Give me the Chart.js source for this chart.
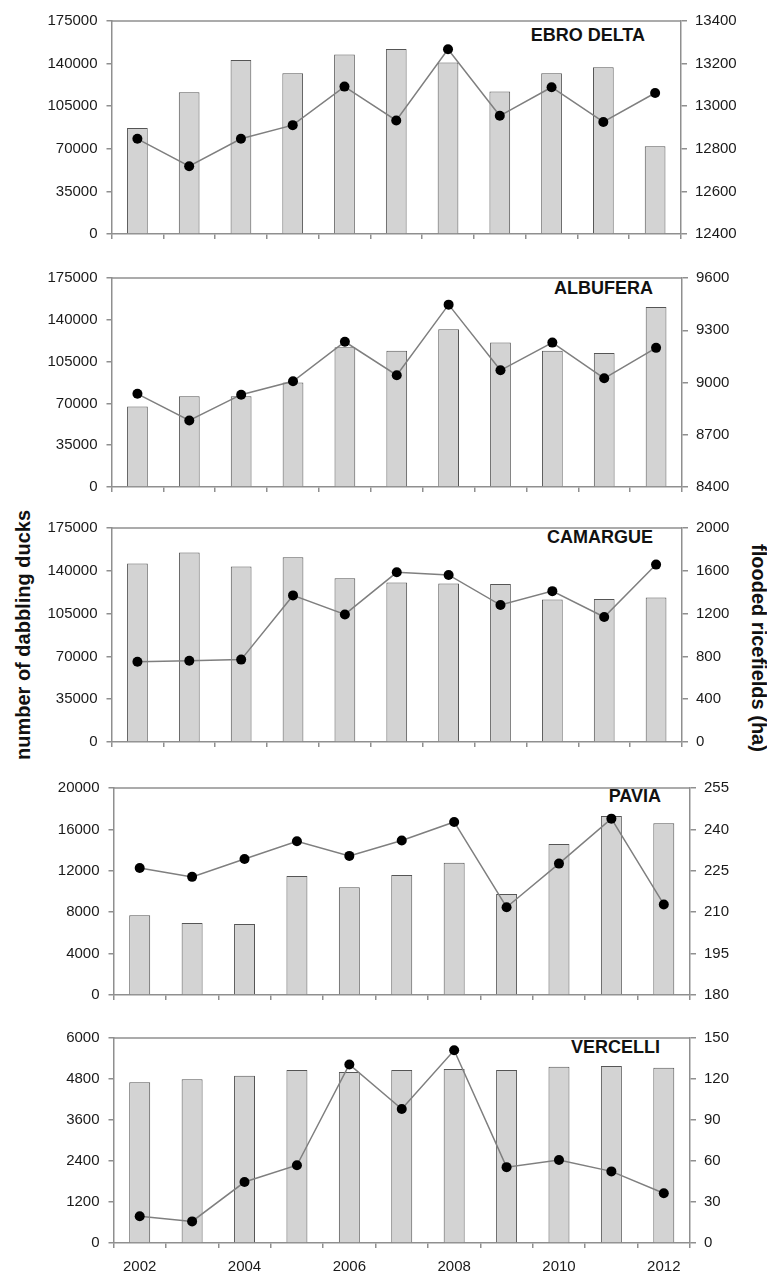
<!DOCTYPE html>
<html><head><meta charset="utf-8">
<script src="https://cdn.jsdelivr.net/npm/chart.js@4.4.1/dist/chart.umd.min.js"></script>
<style>
html,body{margin:0;padding:0;background:#fff;width:767px;height:1277px;overflow:hidden;position:relative;font-family:"Liberation Sans",Arial,sans-serif;}
canvas{position:absolute;left:0;}
.t{position:absolute;font-weight:bold;font-size:18px;color:#111;white-space:nowrap;line-height:18px;text-align:right;}
.ax{position:absolute;font-weight:bold;font-size:20px;color:#111;white-space:nowrap;line-height:20px;}
</style></head><body>
<div class="t" style="right:122px;top:26px;">EBRO DELTA</div>
<div class="t" style="right:114px;top:279px;">ALBUFERA</div>
<div class="t" style="right:114px;top:528px;">CAMARGUE</div>
<div class="t" style="right:106px;top:787px;">PAVIA</div>
<div class="t" style="right:107px;top:1038px;">VERCELLI</div>
<div class="ax" style="left:23px;top:635px;transform:translate(-50%,-50%) rotate(-90deg);">number of dabbling ducks</div>
<div class="ax" style="left:759px;top:648px;transform:translate(-50%,-50%) rotate(90deg);">flooded ricefields (ha)</div>
<script>
const years = ['2002','2003','2004','2005','2006','2007','2008','2009','2010','2011','2012'];
const xTickLabels = ['2002','','2004','','2006','','2008','','2010','','2012'];

const ebroDucks = [87000,116500,143000,132000,147500,152000,141000,117000,132000,137000,72000];
const ebroRice  = [12847,12718,12847,12911,13092,12933,13267,12955,13089,12926,13062];
const albuDucks = [67300,76000,76000,87500,117000,114000,132000,121000,114000,112300,150800];
const albuRice  = [8935,8782,8930,9007,9234,9042,9447,9070,9229,9024,9199];
const camaDucks = [145900,155000,143500,151000,134000,130500,129700,129200,116500,117000,118100];
const camaRice  = [750,760,770,1370,1192,1586,1561,1280,1410,1168,1658];
const paviaDucks = [7700,6950,6870,11500,10400,11600,12780,9750,14600,17300,16600];
const paviaRice  = [226,222.8,229.3,235.7,230.4,236,242.7,211.8,227.6,243.9,212.8];
const verDucks = [4706,4790,4894,5065,5008,5065,5093,5065,5159,5178,5131];
const verRice  = [19.6,15.8,44.6,56.9,130.6,98,141,55.5,60.7,52.4,36.4];

const panels = [
  {ducks:ebroDucks, rice:ebroRice, dMax:175000, dStep:35000, rMin:12400, rMax:13400, rStep:200, T:15, B:234, L:111.5, R:681, last:false},
  {ducks:albuDucks, rice:albuRice, dMax:175000, dStep:35000, rMin:8400, rMax:9600, rStep:300, T:272, B:487, L:111.5, R:682, last:false},
  {ducks:camaDucks, rice:camaRice, dMax:175000, dStep:35000, rMin:0, rMax:2000, rStep:400, T:522, B:742, L:111.5, R:682, last:false},
  {ducks:paviaDucks, rice:paviaRice, dMax:20000, dStep:4000, rMin:180, rMax:255, rStep:15, T:782, B:995, L:113.5, R:690, last:false},
  {ducks:verDucks, rice:verRice, dMax:6000, dStep:1200, rMin:0, rMax:150, rStep:30, T:1032, B:1243, L:113.5, R:690, last:true}
];

const AX = '#8f8f8f';
const FONT = {family:'"Liberation Sans", Arial, sans-serif', size:15};
const topLine = {id:'topLine', afterDraw(c){const a=c.chartArea,ctx=c.ctx;ctx.save();ctx.strokeStyle=AX;ctx.lineWidth=1.5;ctx.beginPath();ctx.moveTo(a.left,a.top);ctx.lineTo(a.right,a.top);ctx.stroke();ctx.restore();}};

panels.forEach(p=>{
  const cv=document.createElement('canvas');
  const H=(p.B-p.T)+12+34;
  cv.width=767; cv.height=H; cv.style.top=(p.T-12)+'px';
  cv.style.width='767px'; cv.style.height=H+'px';
  document.body.appendChild(cv);
  new Chart(cv,{
    type:'bar',
    data:{labels:years,datasets:[
      {type:'line',data:p.rice,yAxisID:'yR',borderColor:'#7f7f7f',borderWidth:1.5,pointRadius:5,pointBackgroundColor:'#000',pointBorderColor:'#000',pointBorderWidth:0,tension:0,order:1},
      {type:'bar',data:p.ducks,yAxisID:'yL',backgroundColor:'#d3d3d3',borderColor:'#555',borderWidth:1,categoryPercentage:1,barPercentage:0.4,order:2}
    ]},
    options:{
      responsive:false,animation:false,devicePixelRatio:1,
      layout:{padding:{top:12,left:0,right:0,bottom:0}},
      plugins:{legend:{display:false},tooltip:{enabled:false}},
      scales:{
        x:{offset:true,
           grid:{offset:true,drawOnChartArea:false,drawTicks:true,tickLength:5,color:AX,lineWidth:1.5},
           border:{display:true,color:AX,width:1.5},
           ticks:{display:p.last,autoSkip:false,maxRotation:0,minRotation:0,padding:10,color:'#1a1a1a',font:FONT,callback:(v,i)=>xTickLabels[i]},
           afterFit:s=>{s.height=34;}},
        yL:{position:'left',min:0,max:p.dMax,
           ticks:{stepSize:p.dStep,padding:9,color:'#1a1a1a',font:FONT,callback:v=>String(v)},
           grid:{drawOnChartArea:false,tickLength:5,color:AX,lineWidth:1.5},
           border:{display:true,color:AX,width:1.5},
           afterFit:s=>{s.width=p.L;}},
        yR:{position:'right',min:p.rMin,max:p.rMax,
           ticks:{stepSize:p.rStep,padding:8,color:'#1a1a1a',font:FONT,callback:v=>String(v)},
           grid:{drawOnChartArea:false,tickLength:6,color:AX,lineWidth:1.5},
           border:{display:true,color:AX,width:1.5},
           afterFit:s=>{s.width=767-p.R;}}
      }
    },
    plugins:[topLine]
  });
});
</script>
</body></html>
